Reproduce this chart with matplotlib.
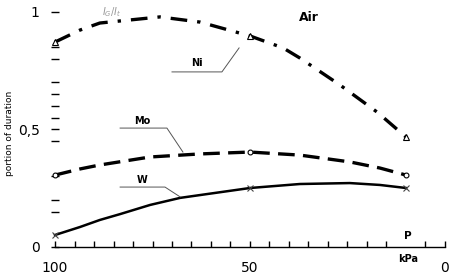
import matplotlib.pyplot as plt
from matplotlib.ticker import FixedLocator

# pressure values (kPa)
p_ni = [100, 93.6, 88.5, 73.1, 62.8, 50, 41.5, 37.2, 26.9, 17.4, 10]
ni = [0.872, 0.923, 0.953, 0.979, 0.957, 0.898, 0.847, 0.804, 0.689, 0.574, 0.468]

p_mo = [100, 93.6, 88.5, 75.6, 62.8, 50, 37.2, 24.4, 16.7, 10]
mo = [0.306, 0.332, 0.349, 0.383, 0.396, 0.404, 0.391, 0.362, 0.336, 0.306]

p_w = [100, 93.6, 88.5, 83.3, 75.6, 67.9, 62.8, 50, 37.2, 24.4, 16.7, 10]
w = [0.051, 0.085, 0.115, 0.140, 0.179, 0.209, 0.221, 0.251, 0.268, 0.272, 0.264, 0.251]

# measured points carrying markers
p_marks = [100, 50, 10]
ni_marks = [0.872, 0.898, 0.468]
mo_marks = [0.306, 0.404, 0.306]
w_marks = [0.051, 0.251, 0.251]

# small tick marks that show on the scan
y_minor = [0.15, 0.2, 0.3, 0.45, 0.55, 0.6, 0.65, 0.7, 0.8, 0.85]
x_minor = [95, 90, 85, 80, 75, 70, 65, 60, 55, 45, 40, 35, 30, 25, 20, 15, 5]

fig = plt.figure(figsize=(4.63, 2.80), dpi=100)
ax = fig.add_axes([0.1188, 0.1179, 0.8423, 0.8393])

ax.plot(p_ni, ni, c='black', lw=2.4, ls=(0, (5, 3, 1, 3)), clip_on=False)
ax.plot(p_mo, mo, c='black', lw=2.4, ls=(0, (5, 2.5)), clip_on=False)
ax.plot(p_w, w, c='black', lw=1.8, clip_on=False)

ax.plot(p_marks, ni_marks, ls='none', marker='^', ms=4, mfc='white', mec='black', mew=0.8, clip_on=False)
ax.plot(p_marks, mo_marks, ls='none', marker='o', ms=3.5, mfc='white', mec='black', mew=0.8, clip_on=False)
ax.plot(p_marks, w_marks, ls='none', marker='x', ms=5, mec='#444444', mew=0.8, clip_on=False)

ax.set_xlim(100, 0)
ax.set_ylim(0, 1)

for s in ['top', 'right', 'left']:
    ax.spines[s].set_visible(False)
ax.spines['bottom'].set_linewidth(1.0)

ax.yaxis.set_major_locator(FixedLocator([0, 0.5, 1]))
ax.set_yticklabels(['0', '0,5', '1'])
ax.yaxis.set_minor_locator(FixedLocator(y_minor))
ax.xaxis.set_major_locator(FixedLocator([100, 50, 0]))
ax.set_xticklabels(['100', '50', '0'])
ax.xaxis.set_minor_locator(FixedLocator(x_minor))

ax.tick_params(axis='y', which='both', direction='inout', length=6, width=1, labelsize=10, pad=8)
ax.tick_params(axis='x', which='both', direction='in', length=4, width=1, labelsize=10, pad=10)

ax.set_ylabel('portion of duration', fontsize=6.5)
ax.yaxis.set_label_coords(-0.105, 0.483)

ax.text(85.5, 1.0, '$I_G/I_t$', fontsize=7, color='#999999', ha='center', va='center')
ax.text(35, 0.975, 'Air', fontsize=9, fontweight='bold', ha='center', va='center')
ax.text(9.5, 0.045, 'P', fontsize=7.5, fontweight='bold', ha='center', va='center')
ax.text(9.5, -0.05, 'kPa', fontsize=7, fontweight='bold', ha='center', va='center')

# series labels with leader lines
ax.plot([70, 57.2, 52.8], [0.745, 0.745, 0.847], c='#555555', lw=0.7)
ax.text(63.7, 0.783, 'Ni', fontsize=7, fontweight='bold', ha='center', va='center')
ax.plot([83.3, 71.3, 67.2], [0.506, 0.506, 0.404], c='#555555', lw=0.7)
ax.text(77.7, 0.536, 'Mo', fontsize=7, fontweight='bold', ha='center', va='center')
ax.plot([83.3, 71.8, 67.9], [0.255, 0.255, 0.213], c='#555555', lw=0.7)
ax.text(77.7, 0.285, 'W', fontsize=7, fontweight='bold', ha='center', va='center')

fig.savefig('out.png', dpi=100)
